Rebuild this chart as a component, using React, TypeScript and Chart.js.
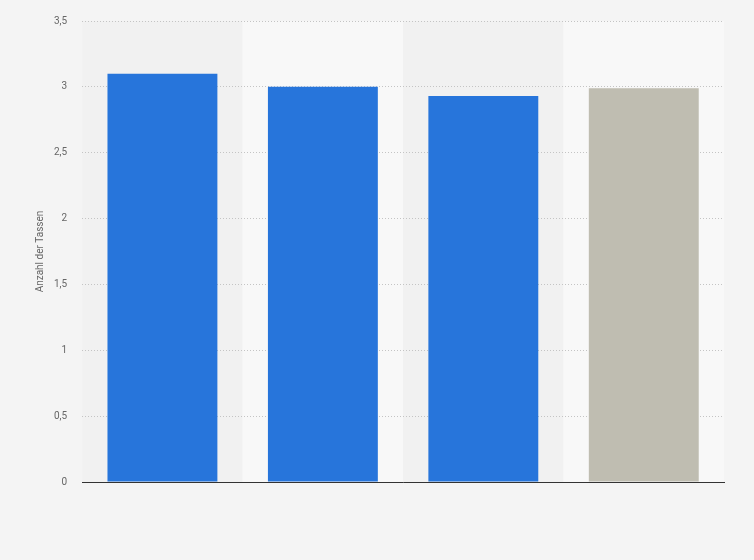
import React, { useEffect, useRef } from 'react';
import { Chart, registerables, ChartConfiguration, Plugin } from 'chart.js';

Chart.register(...registerables);

const categories = ['A', 'B', 'C', 'D'];
const values = [3.1, 3.0, 2.93, 2.99];
const barColors = ['#2775db', '#2775db', '#2775db', '#bfbdb1'];
const bandColors = ['#f1f1f1', '#f8f8f8', '#f1f1f1', '#f8f8f8'];

// alternating column bands behind grid and bars
const bandsPlugin: Plugin<'bar'> = {
  id: 'bands',
  beforeDraw(chart) {
    const { ctx, chartArea, scales } = chart;
    const x = scales.x;
    ctx.save();
    categories.forEach((_, i) => {
      const c = x.getPixelForValue(i);
      const half = (x.getPixelForValue(1) - x.getPixelForValue(0)) / 2;
      ctx.fillStyle = bandColors[i];
      ctx.fillRect(c - half, chartArea.top, half * 2, chartArea.bottom - chartArea.top);
    });
    ctx.restore();
  },
};

const App: React.FC = () => {
  const chartRef = useRef<HTMLCanvasElement | null>(null);
  const chartInstance = useRef<Chart | null>(null);

  useEffect(() => {
    document.body.style.margin = '0';
    if (!chartRef.current) return;

    const config: ChartConfiguration<'bar'> = {
      type: 'bar',
      data: {
        labels: categories,
        datasets: [{
          data: values,
          backgroundColor: barColors,
          barPercentage: 0.685,
          categoryPercentage: 1,
        }],
      },
      options: {
        responsive: true,
        maintainAspectRatio: false,
        animation: false,
        layout: { padding: { top: 20, right: 30, bottom: 70, left: 34 } },
        plugins: {
          legend: { display: false },
          tooltip: { enabled: false },
        },
        scales: {
          x: {
            grid: { display: false },
            border: { display: true, color: '#333333', width: 1 },
            ticks: { display: false },
          },
          y: {
            min: 0,
            max: 3.5,
            border: { display: false, dash: [1, 2] },
            grid: { color: '#c4c4c4', drawTicks: false },
            ticks: {
              stepSize: 0.5,
              padding: 15,
              color: '#666666',
              font: { family: 'Roboto', size: 10 },
              callback: (v) => String(v).replace('.', ','),
            },
            title: {
              display: true,
              text: 'Anzahl der Tassen',
              color: '#666666',
              font: { family: 'Roboto', size: 10 },
              padding: { top: 0, bottom: -7 },
            },
          },
        },
      },
      plugins: [bandsPlugin],
    };

    if (chartInstance.current) chartInstance.current.destroy();
    chartInstance.current = new Chart(chartRef.current, config);
    return () => chartInstance.current?.destroy();
  }, []);

  return (
    <div style={{ width: 754, height: 560, background: '#f4f4f4', position: 'relative' }}>
      <canvas ref={chartRef} />
    </div>
  );
};

export default App;
